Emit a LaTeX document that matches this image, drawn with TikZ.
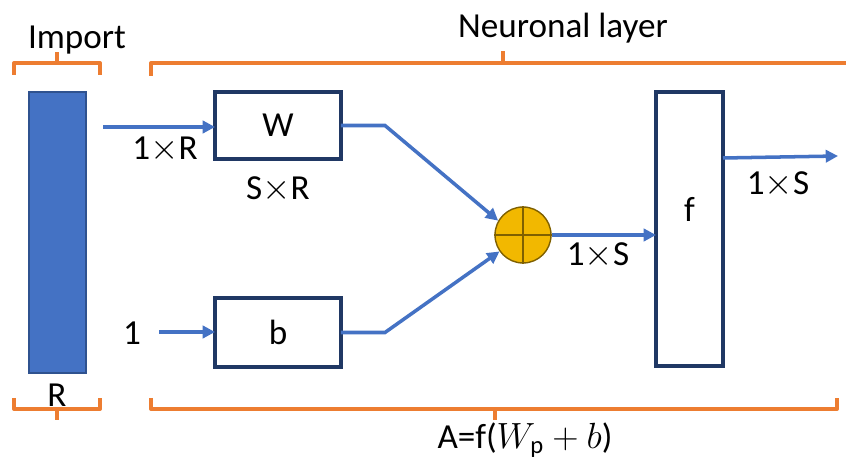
\documentclass[tikz,border=0pt]{standalone}
\usepackage{fontspec}
\setmainfont{Carlito}
\usetikzlibrary{arrows.meta}
\definecolor{arrowblue}{HTML}{4472C4}
\definecolor{barline}{HTML}{2F528F}
\definecolor{boxline}{HTML}{203864}
\definecolor{bracecol}{HTML}{ED7D31}
\definecolor{sumfill}{HTML}{F2B800}
\definecolor{sumline}{HTML}{7F6000}
\begin{document}
\begin{tikzpicture}[x=0.02cm,y=-0.02cm,
		font=\fontsize{20}{24}\selectfont,
		arr/.style={arrowblue,line width=2pt,-{Triangle[length=7pt,width=7pt]}},
		blk/.style={draw=boxline,line width=2.2pt,fill=white,inner sep=0pt,outer sep=0pt},
		brace/.style={bracecol,line width=2.3pt,line join=round},
		lbl/.style={inner sep=0pt}]
	\useasboundingbox (0,0) rectangle (846,462);
	% input vector and blocks
	\node[draw=barline,line width=1pt,fill=arrowblue,minimum width=1.14cm,minimum height=5.62cm,inner sep=0pt] (bar) at (57.5,232.5) {};
	\node[blk,minimum width=2.52cm,minimum height=1.34cm] (W) at (278,125.5) {\raisebox{-0.28cm}{W}};
	\node[blk,minimum width=2.52cm,minimum height=1.38cm] (b) at (278,332.5) {\raisebox{-0.32cm}{b}};
	\node[blk,minimum width=1.34cm,minimum height=5.48cm] (f) at (689.5,229) {\raisebox{0.8cm}{f}};
	\node[circle,draw=sumline,line width=0.8pt,fill=sumfill,minimum size=1.12cm,inner sep=0pt] (sum) at (523,235) {};
	\draw[sumline,line width=0.8pt] (sum.north) -- (sum.south) (sum.west) -- (sum.east);
	% texts
	\node[lbl] (imp) at (77,40) {Import};
	\node[lbl] (neu) at (563,28) {Neuronal layer};
	\node[lbl] (rr) at (57,395) {R};
	\node[lbl] (sr) at (278,190) {S$\times$R};
	\node[lbl] (onein) at (132,333) {1};
	\node[lbl] (rin) at (165,150) {1$\times$R};
	\node[lbl] (sout1) at (598,256) {1$\times$S};
	\node[lbl] (sout2) at (778,185) {1$\times$S};
	\node[lbl] (eq) at (525,440) {A=f($W_{\mathrm{p}}+b$)};
	% connectors
	\coordinate (in1) at (103,127);
	\coordinate (in2) at (159,332);
	\coordinate (out) at (838,156);
	\draw[arr] (in1) -- (in1 -| W.west);
	\draw[arr] (in2) -- (in2 -| b.west);
	\draw[arr] (W.east) -- ++(44,0) -- (sum.150);
	\draw[arr] (b.east) -- ++(44,0) -- (sum.215);
	\draw[arr] (sum.east) -- (sum.east -| f.west);
	\draw[arr] (f.east |- 0,158) -- (out);
	% brackets
	\draw[brace] (14,75) -- (14,63) -- (100,63) -- (100,75) (57,63) -- (57,52);
	\draw[brace] (14,398) -- (14,409) -- (100,409) -- (100,398) (57,409) -- (57,420);
	\draw[brace] (151,76) -- (151,63) -- (852,63) (503,63) -- (503,51);
	\draw[brace] (151,398) -- (151,409) -- (837,409) -- (837,398) (495,409) -- (495,420);
\end{tikzpicture}
\end{document}
